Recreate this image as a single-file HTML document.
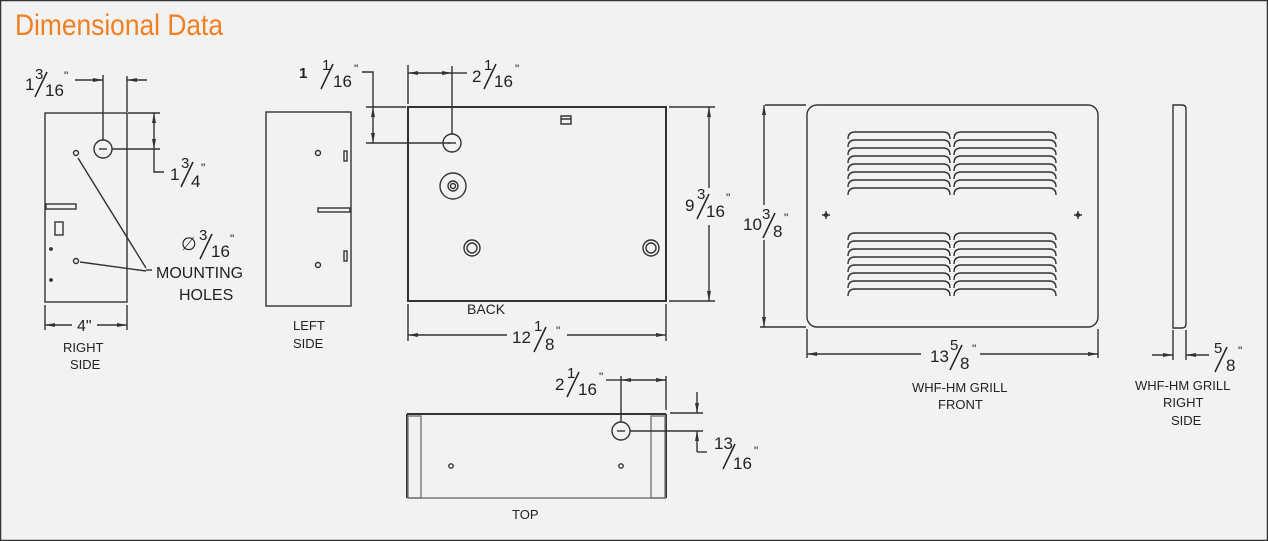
<!DOCTYPE html>
<html><head><meta charset="utf-8"><style>
html,body{margin:0;padding:0;background:#f2f2f2}
svg{display:block}
text{font-family:"Liberation Sans",sans-serif;fill:#222}
</style></head><body>
<svg width="1268" height="541" viewBox="0 0 1268 541" xmlns="http://www.w3.org/2000/svg">
<defs>
<marker id="a" viewBox="0 0 10 6" refX="10" refY="3" markerWidth="10" markerHeight="6" orient="auto-start-reverse" markerUnits="userSpaceOnUse"><path d="M0,1 L10,3 L0,5 z" fill="#333"/></marker>
<g id="lv"><path d="M0,7 Q0,0 7,0 H95 Q102,0 102,7" fill="none" stroke="#333" stroke-width="1.4"/></g>
</defs>
<rect x="0.5" y="0.5" width="1267" height="540" fill="#f2f2f2" stroke="#333" stroke-width="1.5"/>
<text x="15" y="35" font-size="30" style="fill:#f07f22;font-family:'Liberation Sans Narrow','Liberation Sans',sans-serif" textLength="208" lengthAdjust="spacingAndGlyphs">Dimensional Data</text>

<g stroke="#333" fill="none" stroke-width="1.4">
<!-- RIGHT SIDE -->
<rect x="45" y="113" width="82" height="189"/>
<circle cx="103" cy="149" r="9"/><line x1="99" y1="149" x2="107" y2="149"/>
<circle cx="76" cy="153" r="2.5"/><circle cx="76" cy="261" r="2.5"/>
<circle cx="51" cy="249" r="1.2" fill="#333"/><circle cx="51" cy="280" r="1.2" fill="#333"/>
<rect x="46" y="204" width="30" height="5"/>
<rect x="55" y="222" width="8" height="13"/>
<line x1="78" y1="158" x2="146" y2="268"/><line x1="80" y1="262" x2="146" y2="271"/>
<line x1="146" y1="270" x2="152" y2="270"/>
<line x1="103" y1="75" x2="103" y2="140"/>
<line x1="127" y1="76" x2="127" y2="112"/>
<line x1="75" y1="80" x2="103" y2="80" marker-end="url(#a)"/>
<line x1="147" y1="80" x2="127" y2="80" marker-end="url(#a)"/>
<line x1="128" y1="113" x2="160" y2="113"/>
<line x1="112" y1="149" x2="160" y2="149"/>
<line x1="154" y1="113" x2="154" y2="149" marker-start="url(#a)" marker-end="url(#a)"/>
<polyline points="154,149 154,172 164,172"/>
<line x1="45" y1="305" x2="45" y2="330"/><line x1="127" y1="305" x2="127" y2="330"/>
<line x1="45" y1="325" x2="72" y2="325" marker-start="url(#a)"/>
<line x1="97" y1="325" x2="127" y2="325" marker-end="url(#a)"/>

<!-- LEFT SIDE -->
<rect x="266" y="112" width="85" height="194"/>
<circle cx="318" cy="153" r="2.5"/><circle cx="318" cy="265" r="2.5"/>
<rect x="344" y="151" width="3" height="10"/><rect x="344" y="251" width="3" height="10"/>
<rect x="318" y="208" width="32" height="4"/>
<polyline points="362,72 373,72 373,108"/>
<line x1="366" y1="107" x2="406" y2="107"/>
<line x1="366" y1="143" x2="450" y2="143"/>
<line x1="373" y1="107" x2="373" y2="143" marker-start="url(#a)" marker-end="url(#a)"/>

<!-- BACK -->
<rect x="408" y="107" width="258" height="194" stroke-width="2"/>
<circle cx="452" cy="143" r="9"/><line x1="448" y1="143" x2="456" y2="143"/>
<circle cx="453" cy="186" r="13"/><circle cx="453" cy="186" r="5"/><circle cx="453" cy="186" r="2.5"/>
<circle cx="472" cy="248" r="8"/><circle cx="472" cy="248" r="5"/>
<circle cx="651" cy="248" r="8"/><circle cx="651" cy="248" r="5"/>
<path d="M561,116 h10 v8 h-10 z M561,119 h10"/>
<line x1="408" y1="65" x2="408" y2="104"/><line x1="452" y1="66" x2="452" y2="134"/>
<line x1="408" y1="73" x2="452" y2="73" marker-start="url(#a)" marker-end="url(#a)"/>
<line x1="452" y1="73" x2="467" y2="73"/>
<line x1="669" y1="107" x2="715" y2="107"/><line x1="669" y1="301" x2="715" y2="301"/>
<line x1="709" y1="107" x2="709" y2="188" marker-start="url(#a)"/>
<line x1="709" y1="225" x2="709" y2="301" marker-end="url(#a)"/>
<line x1="408" y1="304" x2="408" y2="341"/><line x1="666" y1="304" x2="666" y2="341"/>
<line x1="408" y1="335" x2="507" y2="335" marker-start="url(#a)"/>
<line x1="567" y1="335" x2="666" y2="335" marker-end="url(#a)"/>

<!-- TOP -->
<line x1="407" y1="414" x2="666" y2="414" stroke-width="2"/>
<line x1="407" y1="414" x2="407" y2="498" stroke-width="2"/>
<line x1="666" y1="414" x2="666" y2="498" stroke-width="2"/>
<line x1="407" y1="498" x2="666" y2="498" stroke="#777"/>
<rect x="408" y="416" width="13" height="82" stroke="#777"/>
<rect x="651" y="416" width="14" height="82" stroke="#777"/>
<circle cx="621" cy="431" r="9"/><line x1="617" y1="431" x2="625" y2="431"/>
<circle cx="451" cy="466" r="2.2"/><circle cx="621" cy="466" r="2.2"/>
<line x1="606" y1="380" x2="621" y2="380"/>
<line x1="621" y1="376" x2="621" y2="422"/>
<line x1="666" y1="376" x2="666" y2="410"/>
<line x1="621" y1="380" x2="666" y2="380" marker-start="url(#a)" marker-end="url(#a)"/>
<line x1="670" y1="413" x2="703" y2="413"/>
<line x1="630" y1="431" x2="703" y2="431"/>
<line x1="697" y1="392" x2="697" y2="413" marker-end="url(#a)"/>
<polyline points="697,452 697,431" marker-end="url(#a)"/>
<line x1="697" y1="452" x2="707" y2="452"/>

<!-- GRILL FRONT -->
<rect x="807" y="105" width="291" height="222" rx="10"/>
<line x1="765" y1="105" x2="806" y2="105"/><line x1="760" y1="327" x2="806" y2="327"/>
<line x1="764" y1="105" x2="764" y2="205" marker-start="url(#a)"/>
<line x1="764" y1="240" x2="764" y2="327" marker-end="url(#a)"/>
<line x1="807" y1="329" x2="807" y2="358"/><line x1="1098" y1="329" x2="1098" y2="358"/>
<line x1="807" y1="354" x2="921" y2="354" marker-start="url(#a)"/>
<line x1="980" y1="354" x2="1098" y2="354" marker-end="url(#a)"/>
<path d="M822,215 h8 M826,211 v8 M1074,215 h8 M1078,211 v8"/>
<circle cx="826" cy="215" r="1.5"/><circle cx="1078" cy="215" r="1.5"/>
<path d="M1173,105 h9 q4,0 4,4 v215 q0,4 -4,4 h-9 z"/>
<line x1="1173" y1="330" x2="1173" y2="360"/><line x1="1186" y1="330" x2="1186" y2="360"/>
<line x1="1152" y1="355" x2="1173" y2="355" marker-end="url(#a)"/>
<line x1="1209" y1="355" x2="1186" y2="355" marker-end="url(#a)"/>

<!-- fraction slashes -->
<g stroke="#222" stroke-width="1.5">
<line x1="35" y1="97" x2="47" y2="72"/>
<line x1="181" y1="187" x2="193" y2="162"/>
<line x1="200" y1="259" x2="212" y2="234"/>
<line x1="321" y1="89" x2="333" y2="64"/>
<line x1="484" y1="89" x2="496" y2="64"/>
<line x1="697" y1="219" x2="709" y2="194"/>
<line x1="534" y1="352" x2="546" y2="327"/>
<line x1="567" y1="397" x2="579" y2="372"/>
<line x1="723" y1="469" x2="735" y2="444"/>
<line x1="763" y1="238" x2="775" y2="213"/>
<line x1="950" y1="370" x2="962" y2="345"/>
<line x1="1215" y1="372" x2="1227" y2="347"/>
</g>
</g>
<g>
<use href="#lv" x="848" y="132"/><use href="#lv" x="848" y="140"/><use href="#lv" x="848" y="148"/><use href="#lv" x="848" y="156"/><use href="#lv" x="848" y="164"/><use href="#lv" x="848" y="172"/><use href="#lv" x="848" y="180"/><use href="#lv" x="848" y="188"/>
<use href="#lv" x="954" y="132"/><use href="#lv" x="954" y="140"/><use href="#lv" x="954" y="148"/><use href="#lv" x="954" y="156"/><use href="#lv" x="954" y="164"/><use href="#lv" x="954" y="172"/><use href="#lv" x="954" y="180"/><use href="#lv" x="954" y="188"/>
<use href="#lv" x="848" y="233"/><use href="#lv" x="848" y="241"/><use href="#lv" x="848" y="249"/><use href="#lv" x="848" y="257"/><use href="#lv" x="848" y="265"/><use href="#lv" x="848" y="273"/><use href="#lv" x="848" y="281"/><use href="#lv" x="848" y="289"/>
<use href="#lv" x="954" y="233"/><use href="#lv" x="954" y="241"/><use href="#lv" x="954" y="249"/><use href="#lv" x="954" y="257"/><use href="#lv" x="954" y="265"/><use href="#lv" x="954" y="273"/><use href="#lv" x="954" y="281"/><use href="#lv" x="954" y="289"/>
</g>

<g font-size="17">
<text x="25" y="90">1</text><text x="35" y="79" font-size="15">3</text><text x="45" y="96">16</text><text x="64" y="80" font-size="12">"</text>
<text x="170" y="180">1</text><text x="181" y="168" font-size="15">3</text><text x="191" y="187">4</text><text x="201" y="172" font-size="12">"</text>
<text x="181" y="250" font-size="18">∅</text><text x="199" y="240" font-size="15">3</text><text x="211" y="257">16</text><text x="230" y="243" font-size="12">"</text>
<text x="156" y="278" font-size="16">MOUNTING</text>
<text x="179" y="300" font-size="16">HOLES</text>
<text x="77" y="331" font-size="16">4"</text>
<text x="63" y="352" font-size="13">RIGHT</text><text x="70" y="369" font-size="13">SIDE</text>
<text x="299" y="78" font-size="15" font-weight="bold">1</text><text x="322" y="70" font-size="15">1</text><text x="333" y="87">16</text><text x="354" y="73" font-size="12">"</text>
<text x="293" y="330" font-size="13">LEFT</text><text x="293" y="348" font-size="13">SIDE</text>
<text x="472" y="82">2</text><text x="484" y="70" font-size="15">1</text><text x="494" y="87">16</text><text x="515" y="73" font-size="12">"</text>
<text x="685" y="211">9</text><text x="697" y="199" font-size="15">3</text><text x="706" y="217">16</text><text x="726" y="202" font-size="12">"</text>
<text x="467" y="314" font-size="14">BACK</text>
<text x="512" y="343">12</text><text x="534" y="331" font-size="15">1</text><text x="545" y="350">8</text><text x="556" y="335" font-size="12">"</text>
<text x="555" y="390">2</text><text x="567" y="378" font-size="15">1</text><text x="578" y="395">16</text><text x="599" y="381" font-size="12">"</text>
<text x="714" y="449">13</text><text x="733" y="469">16</text><text x="754" y="455" font-size="12">"</text>
<text x="512" y="519" font-size="13">TOP</text>
<text x="743" y="230">10</text><text x="762" y="219" font-size="15">3</text><text x="773" y="237">8</text><text x="784" y="222" font-size="12">"</text>
<text x="930" y="362">13</text><text x="950" y="350" font-size="15">5</text><text x="960" y="369">8</text><text x="972" y="353" font-size="12">"</text>
<text x="912" y="392" font-size="13">WHF-HM GRILL</text>
<text x="938" y="409" font-size="13">FRONT</text>
<text x="1214" y="353" font-size="15">5</text><text x="1226" y="371">8</text><text x="1238" y="355" font-size="12">"</text>
<text x="1135" y="390" font-size="13">WHF-HM GRILL</text>
<text x="1163" y="407" font-size="13">RIGHT</text>
<text x="1171" y="425" font-size="13">SIDE</text>
</g>
</svg>
</body></html>
